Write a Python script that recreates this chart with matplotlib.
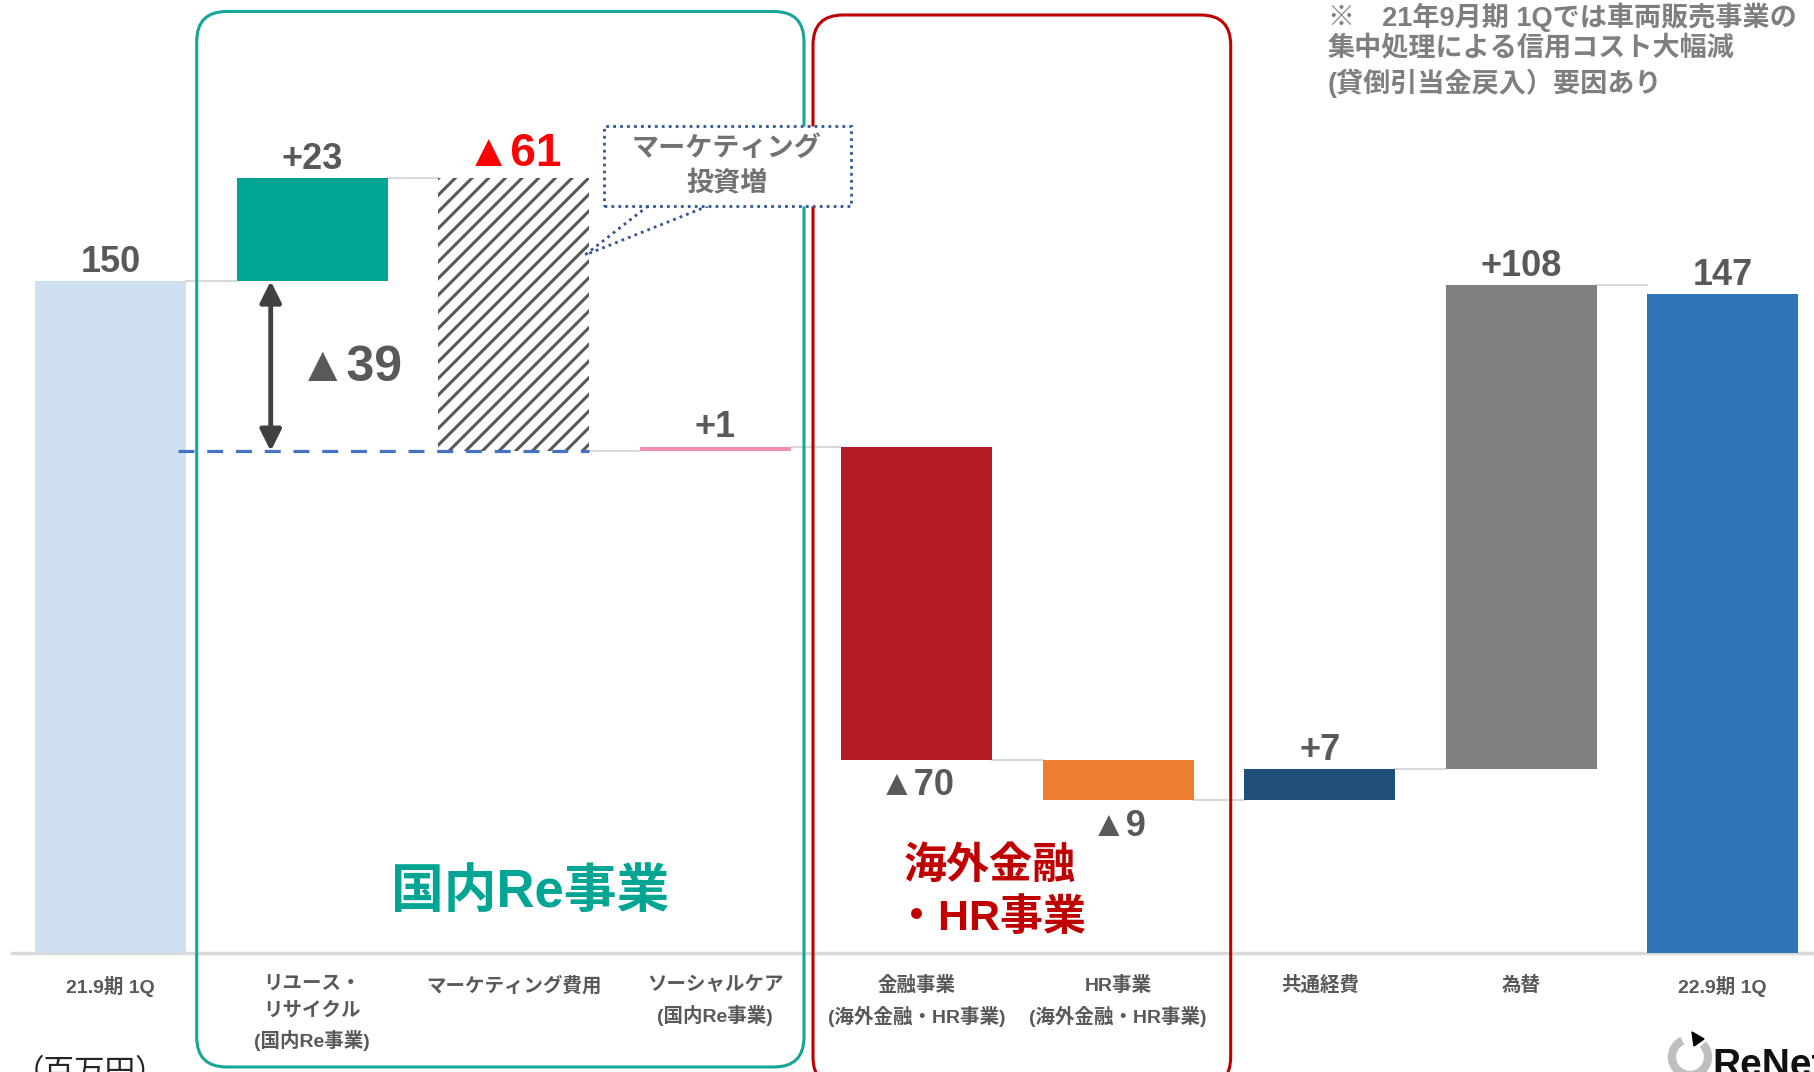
import matplotlib.pyplot as plt
from matplotlib.patches import FancyBboxPatch, Rectangle, Arc, Polygon
from matplotlib.lines import Line2D

plt.rcParams['font.family'] = ['Liberation Sans', 'Noto Sans CJK JP', 'DejaVu Sans']
plt.rcParams['hatch.linewidth'] = 2.2

# --- data (百万円) ---
categories = ["21.9期 1Q", "リユース・\nリサイクル\n(国内Re事業)", "マーケティング費用",
              "ソーシャルケア\n(国内Re事業)", "金融事業\n(海外金融・HR事業)",
              "HR事業\n(海外金融・HR事業)", "共通経費", "為替", "22.9期 1Q"]
start_value = 150
deltas = [23, -61, 1, -70, -9, 7, 108]
end_value = 147
bar_colors = ["#cfe0f1", "#00a594", "white", "#f28fb0", "#b61c23",
              "#ed7d31", "#1f4e79", "#7f7f7f", "#2e75b6"]
label_above = [True, True, True, True, False, False, True, True, True]
domestic_gap = 39  # 国内Re事業 net change

W, H = 1814, 1072
X0, DX = 110.7, 201.5      # pixel centre of first bar, pixel step
Y0, DY = 952.7, 4.478      # pixel of zero line, pixels per unit
GRAY = "#595959"
BAR_W = 0.75


def px(x, y):
    """pixel (from top-left) -> figure fraction"""
    return x / W, 1 - y / H


def to_data(x, y):
    return (x - X0) / DX, (Y0 - y) / DY


fig = plt.figure(figsize=(W / 100, H / 100), dpi=100)
ax = fig.add_axes([0, 0, 1, 1])
ax.set_xlim(-X0 / DX, (W - X0) / DX)
ax.set_ylim(-(H - Y0) / DY, Y0 / DY)
ax.axis("off")

# running levels of the waterfall
levels = [start_value]
for d in deltas:
    levels.append(levels[-1] + d)

bottoms = [0] + [min(levels[i], levels[i + 1]) for i in range(len(deltas))] + [0]
heights = [start_value] + [abs(d) for d in deltas] + [end_value]
tops = [b + h for b, h in zip(bottoms, heights)]

for i in range(len(categories)):
    if i == 2:
        ax.bar(i, heights[i], bottom=bottoms[i], width=BAR_W, color="white",
               edgecolor=GRAY, hatch="//", linewidth=0, zorder=2)
    else:
        ax.bar(i, heights[i], bottom=bottoms[i], width=BAR_W,
               color=bar_colors[i], linewidth=0, zorder=2)

# connectors between bars
for i in range(len(categories) - 1):
    lv = levels[i]
    ax.plot([i + BAR_W / 2, i + 1 - BAR_W / 2], [lv, lv], color="#d9d9d9",
            lw=1.5, zorder=1)

# baseline
ax.plot([-0.49, 8.5], [0, 0], color="#d9d9d9", lw=2.5, zorder=1)

# value labels
for i in range(len(categories)):
    if i == 0:
        txt = f"{start_value}"
    elif i == len(categories) - 1:
        txt = f"{end_value}"
    else:
        d = deltas[i - 1]
        txt = f"+{d}" if d > 0 else f"▲{-d}"
    if i == 2:
        ax.text(i, tops[i] + 0.5, txt, ha="center", va="bottom", fontsize=33,
                fontweight="bold", color="#ff0000")
    elif label_above[i]:
        ax.text(i, tops[i] + 0.3, txt, ha="center", va="bottom", fontsize=26,
                fontweight="bold", color=GRAY)
    else:
        ax.text(i, bottoms[i] - 1.8, txt, ha="center", va="top", fontsize=26,
                fontweight="bold", color=GRAY)

# category labels
for i, lab in enumerate(categories):
    ax.text(i, to_data(0, 976)[1], lab, ha="center", va="top", fontsize=14,
            fontweight="bold", color=GRAY, linespacing=1.65)

# dashed reference line at the level after marketing costs
ax.plot([0.333, 2 + BAR_W / 2], [levels[2], levels[2]], color="#4472c4", lw=2.3,
        linestyle=(0, (5, 4)), zorder=3)

# double arrow for the domestic net change
ax_x = to_data(270.7, 0)[0]
ax.annotate("", xy=(ax_x, levels[2]), xytext=(ax_x, start_value),
            arrowprops=dict(arrowstyle="<|-|>", color="#404040", lw=3.5,
                            mutation_scale=32, shrinkA=0, shrinkB=0), zorder=4)
ax.text(*to_data(350, 368), f"▲{domestic_gap}", ha="center", va="center",
        fontsize=36, fontweight="bold", color=GRAY)

# callout for marketing
bx0, by0, bx1, by1 = 604, 126, 851, 206
fig.patches.append(Rectangle(px(bx0, by1), (bx1 - bx0) / W, (by1 - by0) / H,
                             transform=fig.transFigure, facecolor="white",
                             edgecolor="#2f5597", lw=2, linestyle=(0, (1, 1.5)),
                             zorder=5))
tip = px(585, 255)
for sx in (648, 708):
    fig.add_artist(Line2D([px(sx, by1)[0], tip[0]], [px(sx, by1)[1], tip[1]],
                          transform=fig.transFigure, color="#2f5597", lw=2,
                          linestyle=(0, (1, 1.5))))
fig.text(*px(727, 166), "マーケティング\n投資増", ha="center", va="center",
         fontsize=19.5, fontweight="bold", color="#767171", linespacing=1.4,
         zorder=6)

# segment frames
fig.add_artist(FancyBboxPatch((1.967, 0.05), 6.073, 10.555,
                              boxstyle="round,pad=0,rounding_size=0.3",
                              transform=fig.dpi_scale_trans, fill=False,
                              edgecolor="#17a597", lw=2.2))
fig.add_artist(FancyBboxPatch((8.13, -0.15), 4.177, 10.72,
                              boxstyle="round,pad=0,rounding_size=0.3",
                              transform=fig.dpi_scale_trans, fill=False,
                              edgecolor="#c00000", lw=2.2))

fig.text(*px(530, 893), "国内Re事業", ha="center", va="center", fontsize=38,
         fontweight="bold", color="#00a594")
fig.text(*px(990, 893), "海外金融\n・HR事業", ha="center", va="center",
         fontsize=31, fontweight="bold", color="#c00000", linespacing=1.35)

# note
fig.text(*px(1328, 2), "※　21年9月期 1Qでは車両販売事業の\n集中処理による信用コスト大幅減\n(貸倒引当金戻入）要因あり",
         ha="left", va="top", fontsize=19.5, fontweight="bold", color="#7f7f7f",
         linespacing=1.25)

# unit and logo
fig.text(*px(14, 1058), "（百万円）", ha="left", va="top", fontsize=22,
         color="#262626")
fig.add_artist(Arc((16.90, 0.15), 0.36, 0.36, theta1=115, theta2=405,
                   transform=fig.dpi_scale_trans, color="#bfbfbf", lw=6))
fig.add_artist(Polygon([(16.92, 0.40), (17.04, 0.33), (16.94, 0.26)],
                       closed=True, transform=fig.dpi_scale_trans,
                       color="black"))
fig.text(*px(1712, 1076), "ReNet", ha="left", va="baseline", fontsize=28,
         fontweight="bold", color="#111111")

fig.savefig("out.png", dpi=100)
